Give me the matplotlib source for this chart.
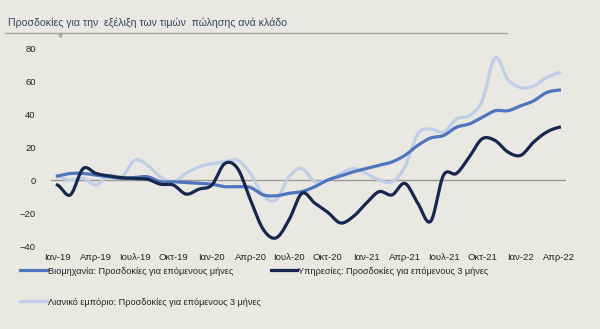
import numpy as np
import matplotlib.pyplot as plt
from matplotlib.lines import Line2D

plt.rcParams['font.family'] = ['Liberation Sans', 'DejaVu Sans']

# Μηνιαία στοιχεία Ιαν-19 .. Απρ-22
months = ['Ιαν-19', 'Φεβ-19', 'Μαρ-19', 'Απρ-19', 'Μαϊ-19', 'Ιουν-19', 'Ιουλ-19', 'Αυγ-19', 'Σεπ-19', 'Οκτ-19',
          'Νοε-19', 'Δεκ-19', 'Ιαν-20', 'Φεβ-20', 'Μαρ-20', 'Απρ-20', 'Μαϊ-20', 'Ιουν-20', 'Ιουλ-20', 'Αυγ-20',
          'Σεπ-20', 'Οκτ-20', 'Νοε-20', 'Δεκ-20', 'Ιαν-21', 'Φεβ-21', 'Μαρ-21', 'Απρ-21', 'Μαϊ-21', 'Ιουν-21',
          'Ιουλ-21', 'Αυγ-21', 'Σεπ-21', 'Οκτ-21', 'Νοε-21', 'Δεκ-21', 'Ιαν-22', 'Φεβ-22', 'Μαρ-22', 'Απρ-22']

industry = [2.5, 4, 4, 3, 2, 1, 1.5, 2, -1, -1,
            -1.5, -2, -2.5, -4, -4, -4.5, -9, -9.5, -8, -7,
            -4, 0, 2.5, 5, 7, 9, 11, 15, 21, 25.5,
            27, 32, 34, 38, 42, 42, 45, 48, 53, 54.5]

services = [-3, -9, 7, 4, 2.5, 1.5, 1, 0.5, -2.5, -3,
            -8.5, -5.5, -3, 10, 7, -12, -30, -35, -24, -8,
            -14, -19.5, -26, -22, -14, -7, -9, -2, -14, -25,
            3, 4, 14, 25, 24, 17, 15, 23, 29, 32]

retail = [2, 0, 1, -3, 3, 2, 12, 9, 2, -1,
          4, 8, 10, 11, 12, 4, -9.5, -12, 2, 7,
          -1, 0, 4, 7, 4, 0, -1, 8, 28, 31,
          29, 37, 39, 48, 74, 61, 56, 57, 62, 65]

tick_labels = ['Ιαν-19', 'Απρ-19', 'Ιουλ-19', 'Οκτ-19', 'Ιαν-20', 'Απρ-20', 'Ιουλ-20',
               'Οκτ-20', 'Ιαν-21', 'Απρ-21', 'Ιουλ-21', 'Οκτ-21', 'Ιαν-22', 'Απρ-22']


def smooth(y, n=12):
    # Catmull-Rom, όπως οι εξομαλυμένες γραμμές του Excel
    y = np.asarray(y, float)
    p = np.concatenate([[y[0]], y, [y[-1]]])
    xs, ys = [], []
    t = np.linspace(0, 1, n, endpoint=False)
    for i in range(1, len(p) - 2):
        p0, p1, p2, p3 = p[i - 1], p[i], p[i + 1], p[i + 2]
        seg = 0.5 * (2 * p1 + (-p0 + p2) * t + (2 * p0 - 5 * p1 + 4 * p2 - p3) * t ** 2
                     + (-p0 + 3 * p1 - 3 * p2 + p3) * t ** 3)
        xs.append(i - 1 + t)
        ys.append(seg)
    xs.append([len(y) - 1])
    ys.append([y[-1]])
    return np.concatenate(xs), np.concatenate(ys)


bg = '#e9e8e3'
fig = plt.figure(figsize=(6, 3.29), dpi=100, facecolor=bg)
ax = fig.add_axes([0.085, 0.252, 0.858, 0.602], facecolor=bg)

c_ind = '#4f75bf'
c_srv = '#17264f'
c_ret = '#c0cfe8'

ax.axhline(0, color='#9a9a96', lw=1.0, zorder=1)
ax.plot(*smooth(retail), color=c_ret, lw=2.3, zorder=2)
ax.plot(*smooth(industry), color=c_ind, lw=2.3, zorder=3)
ax.plot(*smooth(services), color=c_srv, lw=2.3, zorder=4)

ax.set_xlim(-0.5, len(months) - 0.5)
ax.set_ylim(-40, 80)
ax.set_yticks([-40, -20, 0, 20, 40, 60, 80])
ax.set_xticks(range(0, len(months), 3))
ax.set_xticklabels(tick_labels)
ax.tick_params(length=0, labelsize=6.8, colors='#222222')
ax.tick_params(axis='y', pad=11)
ax.tick_params(axis='x', pad=5)
for s in ax.spines.values():
    s.set_visible(False)

fig.text(0.013, 0.93, 'Προσδοκίες για την  εξέλιξη των τιμών  πώλησης ανά κλάδο',
         fontsize=7.6, color='#34475f', va='center')
fig.add_artist(Line2D([0.008, 0.845], [0.90, 0.90], color='#a5a8ad', lw=1.0))
fig.add_artist(Line2D([0.1], [0.895], marker='v', markersize=3, color='#a5a8ad', lw=0))

handles = [Line2D([], [], color=c_ind, lw=2.3),
           Line2D([], [], color=c_ret, lw=2.3),
           Line2D([], [], color=c_srv, lw=2.3)]
labels = ['Βιομηχανία: Προσδοκίες για επόμενους μήνες',
          'Λιανικό εμπόριο: Προσδοκίες για επόμενους 3 μήνες',
          'Υπηρεσίες: Προσδοκίες για επόμενους 3 μήνες']
fig.legend(handles, labels, ncol=2, loc='upper left', bbox_to_anchor=(0.02, 0.215),
           frameon=False, fontsize=6.6, handlelength=2.9, handletextpad=0.1,
           columnspacing=1.1, labelspacing=2.4, labelcolor='#222222')

fig.savefig('out.png', dpi=100, facecolor=bg)
